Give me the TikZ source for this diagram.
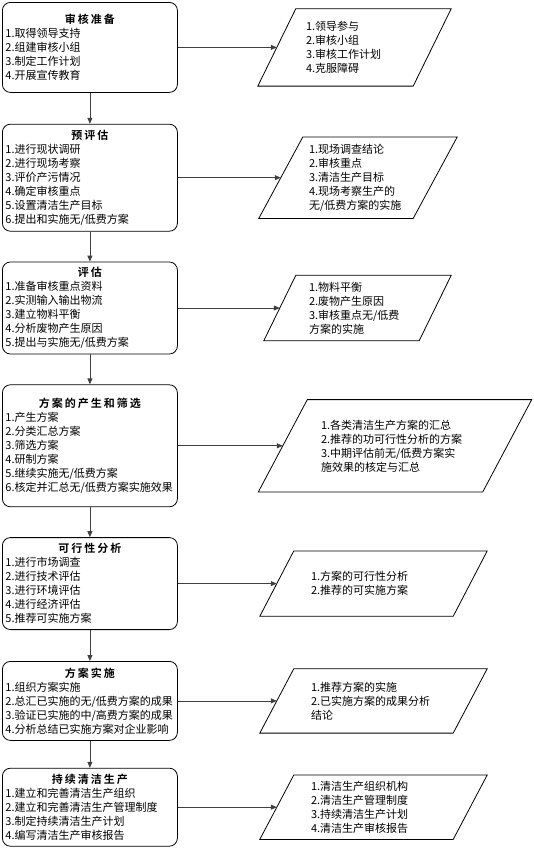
\documentclass[tikz,border=0pt]{standalone}
\usepackage{fontspec}
\usetikzlibrary{positioning,arrows.meta}
\newfontfamily\cjk{Noto Sans CJK SC}
\newfontfamily\cjktitle{Noto Sans CJK SC Bold}[LetterSpace=18]
\definecolor{arrowGray}{HTML}{404040}
\setlength{\parindent}{0pt}
\newcommand{\stagetitle}[1]{\hfill{\cjktitle #1}\hfill\null}

\begin{document}
\begin{tikzpicture}[x=1pt, y=-1pt,
    stage/.style={
        rectangle, draw,
        text width=169pt, inner xsep=3pt, inner ysep=0pt,
        align=left, rounded corners=8pt,
        line width=0.8pt, font=\cjk\fontsize{11}{14}\selectfont
    },
    output/.style={
        rectangle, inner ysep=0pt,
        align=left, font=\cjk\fontsize{11}{14}\selectfont
    },
    arrow/.style={-{Triangle[length=6pt,width=5pt]}, line width=0.8pt, draw=arrowGray},
    node distance=30pt
]
  \useasboundingbox (0,0) rectangle (534,849);

  % Stages
  \node[stage, minimum height=90pt, anchor=north west] (prep) at (2,2) {\stagetitle{审核准备}\\1.取得领导支持\\2.组建审核小组\\3.制定工作计划\\4.开展宣传教育};
  \node[stage, minimum height=107pt, below=31pt of prep] (preassess) {\stagetitle{预评估}\\1.进行现状调研\\2.进行现场考察\\3.评价产污情况\\4.确定审核重点\\5.设置清洁生产目标\\6.提出和实施无/低费方案};
  \node[stage, minimum height=92pt, below=of preassess] (assess) {\stagetitle{评估}\\1.准备审核重点资料\\2.实测输入输出物流\\3.建立物料平衡\\4.分析废物产生原因\\5.提出与实施无/低费方案};
  \node[stage, minimum height=122pt, below=of assess] (options) {\stagetitle{方案的产生和筛选}\\1.产生方案\\2.分类汇总方案\\3.筛选方案\\4.研制方案\\5.继续实施无/低费方案\\6.核定并汇总无/低费方案实施效果};
  \node[stage, minimum height=92pt, below=of options] (feasible) {\stagetitle{可行性分析}\\1.进行市场调查\\2.进行技术评估\\3.进行环境评估\\4.进行经济评估\\5.推荐可实施方案};
  \node[stage, minimum height=79pt, below=31pt of feasible] (implement) {\stagetitle{方案实施}\\1.组织方案实施\\2.总汇已实施的无/低费方案的成果\\3.验证已实施的中/高费方案的成果\\4.分析总结已实施方案对企业影响};
  \node[stage, minimum height=78pt, below=27pt of implement] (sustain) {\stagetitle{持续清洁生产}\\1.建立和完善清洁生产组织\\2.建立和完善清洁生产管理制度\\3.制定持续清洁生产计划\\4.编写清洁生产审核报告};

  % Outputs
  \node[output, right=99pt of prep, minimum height=77pt, text width=97pt, inner xsep=29pt] (prepout) {1.领导参与\\2.审核小组\\3.审核工作计划\\4.克服障碍};
  \node[output, right=103pt of preassess, minimum height=81pt, text width=98pt, inner xsep=28pt] (preassessout) {1.现场调查结论\\2.审核重点\\3.清洁生产目标\\4.现场考察生产的\\无/低费方案的实施};
  \node[output, right=102pt of assess, minimum height=65pt, text width=97pt, inner xsep=29pt] (assessout) {1.物料平衡\\2.废物产生原因\\3.审核重点无/低费\\方案的实施};
  \node[output, right=105pt of options, minimum height=92pt, text width=148pt, inner xsep=38pt] (optionsout) {1.各类清洁生产方案的汇总\\2.推荐的功可行性分析的方案\\3.中期评估前无/低费方案实\\施效果的核定与汇总};
  \node[output, right=99pt of feasible, minimum height=65pt, text width=125pt, inner xsep=34pt] (feasibleout) {1.方案的可行性分析\\2.推荐的可实施方案};
  \node[output, right=99pt of implement, minimum height=64pt, text width=125pt, inner xsep=34pt] (implementout) {1.推荐方案的实施\\2.已实施方案的成果分析\\结论};
  \node[output, right=99pt of sustain, minimum height=64pt, text width=125pt, inner xsep=34pt] (sustainout) {1.清洁生产组织机构\\2.清洁生产管理制度\\3.持续清洁生产计划\\4.清洁生产审核报告};

  % Slanted frames of the outputs
  \foreach \n/\s in {prepout/19, preassessout/22, assessout/16, optionsout/24.5, feasibleout/17, implementout/17, sustainout/17}
    \draw[line width=0.8pt] ([xshift=\s pt]\n.north west) -- ([xshift=\s pt]\n.north east)
        -- ([xshift=-\s pt]\n.south east) -- ([xshift=-\s pt]\n.south west) -- cycle;

  % Stage to stage
  \foreach \a/\b in {prep/preassess, preassess/assess, assess/options, options/feasible, feasible/implement, implement/sustain}
    \draw[arrow] (\a) -- (\b);

  % Stage to output
  \foreach \a in {prep, preassess, assess, options, feasible, implement, sustain}
    \draw[arrow] (\a) -- (\a out);

\end{tikzpicture}
\end{document}
